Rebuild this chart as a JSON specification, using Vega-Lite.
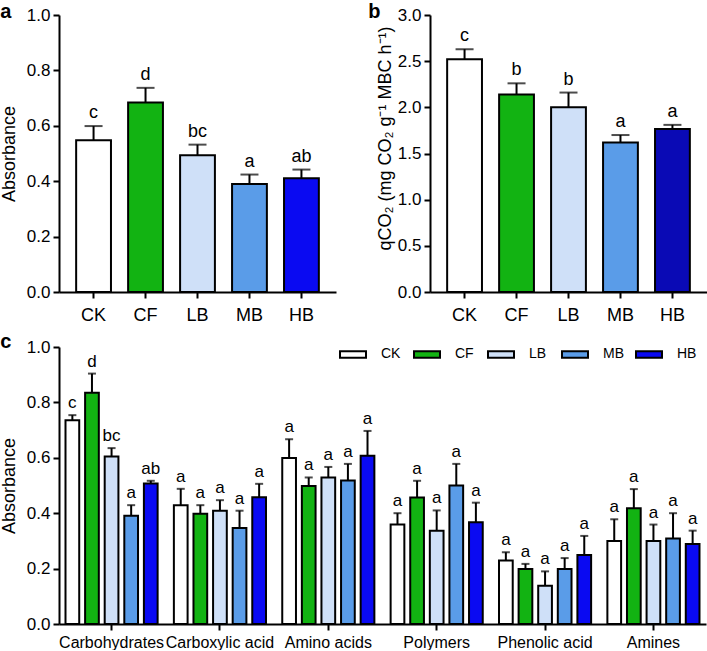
{
  "$schema": "https://vega.github.io/schema/vega-lite/v6.json",
  "padding": {"left": 0, "top": 2, "right": 0, "bottom": 0},
  "config": {
    "font": "Liberation Sans",
    "view": {"stroke": null},
    "axis": {"domainColor": "black", "domainWidth": 2, "tickColor": "black", "tickWidth": 2, "tickSize": 6, "labelColor": "black", "titleColor": "black", "grid": false, "labelFontSize": 17, "titleFontSize": 18, "titleFontWeight": "normal", "labelFont": "Liberation Sans", "titleFont": "Liberation Sans"},
    "axisX": {"labelAngle": 0, "labelFontSize": 18, "labelPadding": 8},
    "axisY": {"labelPadding": 3, "titlePadding": 8},
    "title": {"fontSize": 20, "fontWeight": "bold", "anchor": "start", "frame": "bounds", "font": "Liberation Sans", "color": "black", "offset": -16}
  },
  "datasets": {
    "a": [
      {"trt": "CK", "value": 0.548, "err": 0.599, "letter": "c"},
      {"trt": "CF", "value": 0.684, "err": 0.737, "letter": "d"},
      {"trt": "LB", "value": 0.494, "err": 0.532, "letter": "bc"},
      {"trt": "MB", "value": 0.39, "err": 0.424, "letter": "a"},
      {"trt": "HB", "value": 0.411, "err": 0.442, "letter": "ab"}
    ],
    "b": [
      {"trt": "CK", "value": 2.52, "err": 2.63, "letter": "c"},
      {"trt": "CF", "value": 2.14, "err": 2.26, "letter": "b"},
      {"trt": "LB", "value": 2.0, "err": 2.16, "letter": "b"},
      {"trt": "MB", "value": 1.62, "err": 1.70, "letter": "a"},
      {"trt": "HB", "value": 1.765, "err": 1.81, "letter": "a"}
    ],
    "c": [
      {"group": "Carbohydrates", "trt": "CK", "value": 0.736, "err": 0.754, "letter": "c"},
      {"group": "Carbohydrates", "trt": "CF", "value": 0.835, "err": 0.904, "letter": "d"},
      {"group": "Carbohydrates", "trt": "LB", "value": 0.605, "err": 0.635, "letter": "bc"},
      {"group": "Carbohydrates", "trt": "MB", "value": 0.391, "err": 0.429, "letter": "a"},
      {"group": "Carbohydrates", "trt": "HB", "value": 0.507, "err": 0.517, "letter": "ab"},
      {"group": "Carboxylic acid", "trt": "CK", "value": 0.429, "err": 0.488, "letter": "a"},
      {"group": "Carboxylic acid", "trt": "CF", "value": 0.398, "err": 0.429, "letter": "a"},
      {"group": "Carboxylic acid", "trt": "LB", "value": 0.409, "err": 0.447, "letter": "a"},
      {"group": "Carboxylic acid", "trt": "MB", "value": 0.347, "err": 0.409, "letter": "a"},
      {"group": "Carboxylic acid", "trt": "HB", "value": 0.458, "err": 0.506, "letter": "a"},
      {"group": "Amino acids", "trt": "CK", "value": 0.599, "err": 0.667, "letter": "a"},
      {"group": "Amino acids", "trt": "CF", "value": 0.498, "err": 0.529, "letter": "a"},
      {"group": "Amino acids", "trt": "LB", "value": 0.529, "err": 0.567, "letter": "a"},
      {"group": "Amino acids", "trt": "MB", "value": 0.518, "err": 0.578, "letter": "a"},
      {"group": "Amino acids", "trt": "HB", "value": 0.607, "err": 0.697, "letter": "a"},
      {"group": "Polymers", "trt": "CK", "value": 0.359, "err": 0.40, "letter": "a"},
      {"group": "Polymers", "trt": "CF", "value": 0.457, "err": 0.517, "letter": "a"},
      {"group": "Polymers", "trt": "LB", "value": 0.337, "err": 0.41, "letter": "a"},
      {"group": "Polymers", "trt": "MB", "value": 0.50, "err": 0.578, "letter": "a"},
      {"group": "Polymers", "trt": "HB", "value": 0.367, "err": 0.438, "letter": "a"},
      {"group": "Phenolic acid", "trt": "CK", "value": 0.229, "err": 0.259, "letter": "a"},
      {"group": "Phenolic acid", "trt": "CF", "value": 0.199, "err": 0.217, "letter": "a"},
      {"group": "Phenolic acid", "trt": "LB", "value": 0.138, "err": 0.19, "letter": "a"},
      {"group": "Phenolic acid", "trt": "MB", "value": 0.199, "err": 0.238, "letter": "a"},
      {"group": "Phenolic acid", "trt": "HB", "value": 0.249, "err": 0.318, "letter": "a"},
      {"group": "Amines", "trt": "CK", "value": 0.30, "err": 0.378, "letter": "a"},
      {"group": "Amines", "trt": "CF", "value": 0.418, "err": 0.487, "letter": "a"},
      {"group": "Amines", "trt": "LB", "value": 0.30, "err": 0.359, "letter": "a"},
      {"group": "Amines", "trt": "MB", "value": 0.309, "err": 0.40, "letter": "a"},
      {"group": "Amines", "trt": "HB", "value": 0.289, "err": 0.337, "letter": "a"}
    ]
  },
  "resolve": {"scale": {"color": "independent"}},
  "spacing": 8,
  "vconcat": [
    {
      "hconcat": [
        {
          "title": {"text": "a"},
          "width": 277, "height": 277,
          "data": {"name": "a"},
          "encoding": {
            "x": {"field": "trt", "type": "nominal", "sort": ["CK", "CF", "LB", "MB", "HB"], "scale": {"paddingInner": 0.33, "paddingOuter": 0.33}, "axis": {"title": null}}
          },
          "layer": [
            {"mark": {"type": "bar", "stroke": "black", "strokeWidth": 2},
             "encoding": {
               "y": {"field": "value", "type": "quantitative", "scale": {"domain": [0, 1]}, "axis": {"title": "Absorbance", "values": [0, 0.2, 0.4, 0.6, 0.8, 1.0], "format": ".1f"}},
               "color": {"field": "trt", "type": "nominal", "sort": ["CK", "CF", "LB", "MB", "HB"], "scale": {"domain": ["CK", "CF", "LB", "MB", "HB"], "range": ["#ffffff", "#12b312", "#cfe0f8", "#5a9ce8", "#0a0af2"]}, "legend": null}
             }},
            {"mark": {"type": "rule", "strokeWidth": 2, "color": "black"},
             "encoding": {"y": {"field": "value", "type": "quantitative"}, "y2": {"field": "err"}}},
            {"mark": {"type": "tick", "color": "black", "thickness": 2, "size": 18},
             "encoding": {"y": {"field": "err", "type": "quantitative"}}},
            {"mark": {"type": "text", "dy": -8, "baseline": "alphabetic", "fontSize": 18, "color": "black"},
             "encoding": {"y": {"field": "err", "type": "quantitative"}, "text": {"field": "letter"}}}
          ]
        },
        {
          "title": {"text": "b", "dx": -8},
          "width": 277, "height": 277,
          "data": {"name": "b"},
          "encoding": {
            "x": {"field": "trt", "type": "nominal", "sort": ["CK", "CF", "LB", "MB", "HB"], "scale": {"paddingInner": 0.33, "paddingOuter": 0.33}, "axis": {"title": null}}
          },
          "layer": [
            {"mark": {"type": "bar", "stroke": "black", "strokeWidth": 2},
             "encoding": {
               "y": {"field": "value", "type": "quantitative", "scale": {"domain": [0, 3]}, "axis": {"title": "qCO₂ (mg CO₂ g⁻¹ MBC h⁻¹)", "titleY": 123, "titlePadding": 3, "values": [0, 0.5, 1, 1.5, 2, 2.5, 3], "format": ".1f"}},
               "color": {"field": "trt", "type": "nominal", "sort": ["CK", "CF", "LB", "MB", "HB"], "scale": {"domain": ["CK", "CF", "LB", "MB", "HB"], "range": ["#ffffff", "#12b312", "#cfe0f8", "#5a9ce8", "#0a0ab5"]}, "legend": null}
             }},
            {"mark": {"type": "rule", "strokeWidth": 2, "color": "black"},
             "encoding": {"y": {"field": "value", "type": "quantitative"}, "y2": {"field": "err"}}},
            {"mark": {"type": "tick", "color": "black", "thickness": 2, "size": 18},
             "encoding": {"y": {"field": "err", "type": "quantitative"}}},
            {"mark": {"type": "text", "dy": -8, "baseline": "alphabetic", "fontSize": 18, "color": "black"},
             "encoding": {"y": {"field": "err", "type": "quantitative"}, "text": {"field": "letter"}}}
          ]
        }
      ],
      "spacing": 32,
      "resolve": {"scale": {"color": "independent"}}
    },
    {
      "title": {"text": "c", "offset": -14},
      "width": 647, "height": 277,
      "data": {"name": "c"},
      "encoding": {
        "x": {"field": "group", "type": "nominal", "sort": ["Carbohydrates", "Carboxylic acid", "Amino acids", "Polymers", "Phenolic acid", "Amines"], "scale": {"paddingInner": 0.15, "paddingOuter": 0.06}, "axis": {"title": null, "labelFontSize": 16, "labelPadding": 4, "labelOverlap": false, "labelBound": false}},
        "xOffset": {"field": "trt", "type": "nominal", "sort": ["CK", "CF", "LB", "MB", "HB"], "scale": {"paddingInner": 0.3, "paddingOuter": 0}}
      },
      "layer": [
        {"mark": {"type": "bar", "stroke": "black", "strokeWidth": 2},
         "encoding": {
           "y": {"field": "value", "type": "quantitative", "scale": {"domain": [0, 1]}, "axis": {"title": "Absorbance", "values": [0, 0.2, 0.4, 0.6, 0.8, 1.0], "format": ".1f"}},
           "color": {"field": "trt", "type": "nominal", "sort": ["CK", "CF", "LB", "MB", "HB"], "scale": {"domain": ["CK", "CF", "LB", "MB", "HB"], "range": ["#ffffff", "#12b312", "#cfe0f8", "#5a9ce8", "#0a0af2"]},
             "legend": {"orient": "none", "legendX": 280, "legendY": -7, "direction": "horizontal", "columns": 5, "title": null, "symbolType": "M-1,-0.25H1V0.25H-1Z", "symbolSize": 676, "symbolStrokeColor": "black", "symbolStrokeWidth": 2, "symbolOpacity": 1, "labelFontSize": 14, "labelOffset": 14, "columnPadding": 8, "gridAlign": "all", "labelColor": "black"}}
         }},
        {"mark": {"type": "rule", "strokeWidth": 2, "color": "black"},
         "encoding": {"y": {"field": "value", "type": "quantitative"}, "y2": {"field": "err"}}},
        {"mark": {"type": "tick", "color": "black", "thickness": 2, "size": 8},
         "encoding": {"y": {"field": "err", "type": "quantitative"}}},
        {"mark": {"type": "text", "dy": -7, "baseline": "alphabetic", "fontSize": 17, "color": "black"},
         "encoding": {"y": {"field": "err", "type": "quantitative"}, "text": {"field": "letter"}}}
      ]
    }
  ]
}
